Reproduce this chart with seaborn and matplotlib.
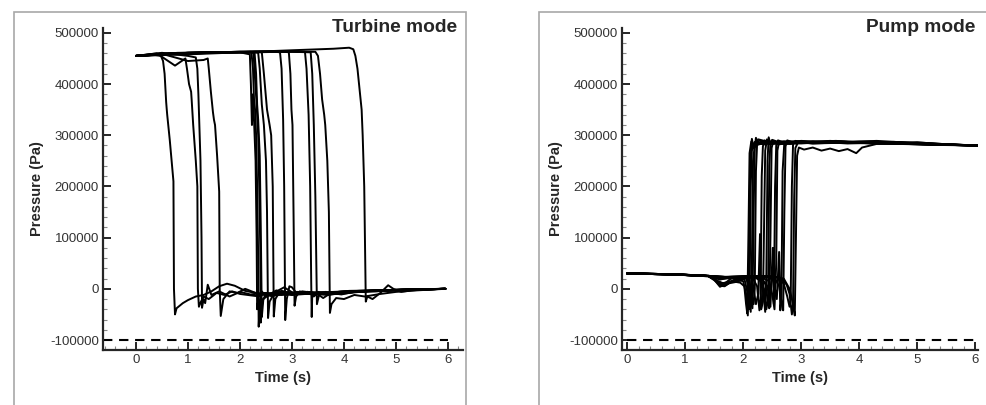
import matplotlib
matplotlib.use("Agg")
import matplotlib.pyplot as plt
from matplotlib.patches import Rectangle
from matplotlib.ticker import MultipleLocator, FuncFormatter
import seaborn as sns
import numpy as np
import pandas as pd

# Turbine mode: pressure traces (time in s, pressure in Pa)
turbine_t = [
    [0, 0.3, 0.48, 0.52, 0.55, 0.58, 0.59, 0.60, 0.65, 0.72, 0.73, 0.75, 0.78, 0.9, 1.0, 1.15, 1.3, 1.45, 1.6, 1.75, 1.9, 2.1, 2.4, 2.7, 3.0, 3.4, 3.8, 4.3, 4.8, 5.3, 5.95],
    [0, 0.4, 0.75, 0.95, 0.98, 1.02, 1.06, 1.07, 1.1, 1.15, 1.18, 1.19, 1.21, 1.25, 1.3, 1.4, 1.55, 1.7, 1.85, 2.0, 2.3, 2.6, 3.0, 3.5, 4.0, 4.6, 5.2, 5.95],
    [0, 0.5, 1.0, 1.15, 1.18, 1.2, 1.24, 1.26, 1.27, 1.3, 1.33, 1.38, 1.45, 1.6, 1.8, 2.0, 2.2, 2.5, 2.8, 3.2, 3.6, 4.1, 4.7, 5.3, 5.95],
    [0, 0.5, 1.0, 1.3, 1.38, 1.4, 1.44, 1.48, 1.5, 1.52, 1.56, 1.6, 1.61, 1.63, 1.68, 1.8, 1.95, 2.1, 2.3, 2.6, 2.9, 3.3, 3.7, 4.2, 4.8, 5.4, 5.95],
    [0, 0.5, 1.0, 1.5, 2.0, 2.19, 2.21, 2.23, 2.25, 2.27, 2.3, 2.32, 2.33, 2.36, 2.45, 2.6, 2.8, 3.0, 3.3, 3.6, 4.0, 4.5, 5.0, 5.5, 5.95],
    [0, 0.6, 1.2, 1.8, 2.22, 2.25, 2.27, 2.29, 2.31, 2.33, 2.35, 2.36, 2.38, 2.42, 2.5, 2.65, 2.85, 3.05, 3.35, 3.7, 4.1, 4.6, 5.1, 5.95],
    [0, 0.7, 1.4, 2.0, 2.28, 2.31, 2.33, 2.35, 2.38, 2.4, 2.42, 2.45, 2.55, 2.7, 2.9, 3.1, 3.4, 3.8, 4.3, 4.9, 5.5, 5.95],
    [0, 0.8, 1.6, 2.2, 2.35, 2.38, 2.42, 2.46, 2.5, 2.52, 2.54, 2.57, 2.65, 2.8, 3.0, 3.2, 3.5, 3.9, 4.4, 5.0, 5.6, 5.95],
    [0, 0.8, 1.6, 2.3, 2.42, 2.46, 2.52, 2.57, 2.6, 2.63, 2.65, 2.68, 2.75, 2.9, 3.1, 3.3, 3.6, 4.0, 4.5, 5.1, 5.95],
    [0, 1.0, 2.0, 2.6, 2.77, 2.8, 2.83, 2.85, 2.87, 2.9, 2.95, 3.0, 3.1, 3.3, 3.6, 4.0, 4.5, 5.0, 5.5, 5.95],
    [0, 1.0, 2.0, 2.8, 2.94, 2.97, 2.99, 3.01, 3.03, 3.05, 3.08, 3.15, 3.3, 3.5, 3.8, 4.2, 4.7, 5.3, 5.95],
    [0, 1.0, 2.0, 3.0, 3.25, 3.28, 3.32, 3.35, 3.37, 3.38, 3.39, 3.42, 3.5, 3.65, 3.85, 4.1, 4.5, 5.0, 5.5, 5.95],
    [0, 1.0, 2.0, 3.0, 3.36, 3.39, 3.42, 3.45, 3.47, 3.48, 3.52, 3.6, 3.75, 3.95, 4.2, 4.6, 5.1, 5.6, 5.95],
    [0, 1.0, 2.0, 3.0, 3.45, 3.5, 3.54, 3.58, 3.62, 3.64, 3.68, 3.71, 3.73, 3.76, 3.85, 4.0, 4.2, 4.4, 4.7, 5.0, 5.4, 5.95],
    [0, 1.0, 2.0, 3.0, 3.8, 4.1, 4.18, 4.22, 4.26, 4.3, 4.32, 4.34, 4.36, 4.39, 4.41, 4.42, 4.45, 4.55, 4.7, 4.85, 4.95, 5.1, 5.3, 5.6, 5.95],
    [0, 0.7, 1.5, 2.1, 2.26, 2.29, 2.32, 2.35, 2.37, 2.39, 2.4, 2.43, 2.5, 2.62, 2.8, 3.0, 3.3, 3.7, 4.2, 4.8, 5.4, 5.95],
]
turbine_p = [
    [455000, 458000, 455000, 445000, 420000, 365000, 352000, 340000, 290000, 210000, 0, -50000, -38000, -28000, -22000, -15000, -12000, -5000, 5000, 10000, 6000, -4000, -10000, -8000, -12000, -9000, -6000, -4000, -3000, -1500, 0],
    [455000, 460000, 436000, 450000, 430000, 400000, 385000, 370000, 320000, 250000, 200000, 0, -35000, -25000, -15000, -20000, -8000, -12000, -5000, -10000, -14000, -9000, -7000, -10000, -5000, -3000, -2000, 0],
    [455000, 461000, 455000, 452000, 430000, 380000, 250000, 100000, -37000, -20000, -28000, 8000, -12000, -5000, -15000, -6000, -11000, -8000, -12000, -6000, -9000, -4000, -3000, -1000, 0],
    [455000, 459000, 445000, 447000, 450000, 430000, 385000, 345000, 330000, 320000, 260000, 190000, 0, -53000, -20000, -5000, -8000, 0, -8000, -14000, -10000, -7000, -11000, -6000, -3000, -1500, 0],
    [455000, 460000, 461000, 462000, 462000, 458000, 400000, 320000, 380000, 330000, 250000, 100000, -40000, -15000, -8000, -12000, -5000, -9000, -6000, -10000, -7000, -4000, -2000, -1000, 0],
    [455000, 459000, 461000, 462000, 462000, 430000, 370000, 350000, 300000, 200000, 60000, -74000, -30000, -5000, -15000, -8000, 3000, -10000, -8000, -12000, -6000, -4000, -2000, 0],
    [455000, 460000, 462000, 463000, 462000, 420000, 360000, 330000, 260000, 120000, -55000, -20000, -12000, -3000, -10000, -7000, -11000, -8000, -5000, -3000, -1000, 0],
    [455000, 460000, 462000, 463000, 461000, 430000, 360000, 320000, 250000, 150000, -57000, -25000, -10000, -6000, -12000, -5000, -9000, -6000, -4000, -2000, -500, 0],
    [455000, 461000, 462000, 463000, 462000, 420000, 350000, 320000, 300000, 200000, -54000, -20000, -8000, -12000, -6000, -10000, -7000, -9000, -4000, -2000, 0],
    [455000, 461000, 463000, 464000, 462000, 430000, 330000, 200000, -61000, -20000, 5000, 3000, -10000, -8000, -11000, -7000, -5000, -3000, -1000, 0],
    [455000, 461000, 463000, 464000, 462000, 420000, 350000, 320000, 150000, -33000, -15000, -5000, -10000, -6000, -9000, -5000, -3000, -1000, 0],
    [455000, 461000, 463000, 464000, 463000, 430000, 340000, 200000, 14000, -55000, -10000, -15000, -8000, -6000, -10000, -7000, -4000, -2000, -1000, 0],
    [455000, 460000, 462000, 463000, 462000, 420000, 320000, 180000, 40000, -30000, -12000, -18000, -8000, -11000, -6000, -5000, -2000, -1000, 0],
    [455000, 460000, 462000, 463000, 463000, 455000, 420000, 370000, 340000, 320000, 250000, 150000, -47000, -30000, -18000, -20000, -12000, -15000, -10000, -6000, -3000, 0],
    [455000, 458000, 462000, 466000, 469000, 471000, 468000, 455000, 430000, 390000, 370000, 350000, 300000, 200000, 50000, -25000, -15000, -20000, -8000, 7000, 0, -6000, -3000, -1000, 0],
    [455000, 459000, 461000, 462000, 461000, 410000, 360000, 300000, 200000, 80000, -66000, -25000, -9000, -14000, -4000, -9000, -6000, -10000, -5000, -3000, -1000, 0],
]

# Pump mode: pressure traces
pump_t = [
    [0, 0.8, 1.4, 1.5, 1.6, 1.68, 1.8, 1.95, 2.02, 2.05, 2.07, 2.09, 2.11, 2.14, 2.2, 2.4, 2.8, 3.5, 4.5, 5.5, 6.05],
    [0, 0.8, 1.4, 1.5, 1.6, 1.7, 1.85, 2.0, 2.05, 2.08, 2.1, 2.12, 2.15, 2.18, 2.3, 2.6, 3.0, 3.8, 4.6, 5.4, 6.05],
    [0, 0.8, 1.4, 1.5, 1.58, 1.72, 1.9, 2.02, 2.07, 2.1, 2.11, 2.13, 2.15, 2.2, 2.35, 2.7, 3.2, 4.0, 4.8, 5.6, 6.05],
    [0, 0.8, 1.4, 1.5, 1.6, 1.75, 1.9, 2.05, 2.1, 2.13, 2.15, 2.17, 2.2, 2.26, 2.5, 3.0, 3.6, 4.3, 5.0, 5.7, 6.05],
    [0, 0.8, 1.4, 1.62, 1.8, 1.95, 2.08, 2.12, 2.16, 2.18, 2.2, 2.22, 2.26, 2.4, 2.9, 3.4, 4.2, 5.0, 5.8, 6.05],
    [0, 0.8, 1.4, 1.5, 1.6, 1.7, 1.8, 2.0, 2.1, 2.15, 2.18, 2.2, 2.22, 2.24, 2.28, 2.45, 2.9, 3.5, 4.3, 5.1, 5.8, 6.05],
    [0, 0.8, 1.4, 1.65, 1.85, 2.05, 2.15, 2.22, 2.26, 2.29, 2.31, 2.34, 2.36, 2.38, 2.41, 2.5, 2.9, 3.6, 4.4, 5.2, 6.05],
    [0, 0.8, 1.4, 1.6, 1.8, 2.0, 2.15, 2.24, 2.28, 2.3, 2.32, 2.34, 2.37, 2.45, 2.8, 3.3, 4.0, 4.8, 5.6, 6.05],
    [0, 0.8, 1.4, 1.6, 1.8, 2.0, 2.2, 2.3, 2.35, 2.38, 2.4, 2.42, 2.44, 2.47, 2.6, 3.0, 3.6, 4.4, 5.2, 6.05],
    [0, 0.8, 1.4, 1.55, 1.65, 1.8, 2.0, 2.2, 2.3, 2.36, 2.4, 2.43, 2.45, 2.47, 2.5, 2.7, 3.1, 3.8, 4.6, 5.4, 6.05],
    [0, 0.8, 1.4, 1.7, 1.9, 2.1, 2.3, 2.38, 2.42, 2.45, 2.47, 2.49, 2.52, 2.6, 3.0, 3.6, 4.3, 5.0, 5.8, 6.05],
    [0, 0.8, 1.4, 1.7, 1.9, 2.1, 2.3, 2.42, 2.47, 2.51, 2.53, 2.55, 2.57, 2.6, 2.75, 3.2, 3.9, 4.7, 5.5, 6.05],
    [0, 0.8, 1.4, 1.7, 1.9, 2.1, 2.3, 2.45, 2.5, 2.54, 2.57, 2.59, 2.62, 2.7, 3.0, 3.5, 4.2, 5.0, 5.7, 6.05],
    [0, 0.8, 1.4, 1.7, 2.0, 2.2, 2.4, 2.52, 2.58, 2.62, 2.64, 2.66, 2.68, 2.71, 2.8, 3.2, 3.9, 4.6, 5.4, 6.05],
    [0, 0.8, 1.4, 1.7, 2.0, 2.2, 2.4, 2.55, 2.62, 2.66, 2.69, 2.71, 2.73, 2.76, 2.9, 3.3, 4.0, 4.8, 5.6, 6.05],
    [0, 0.8, 1.4, 1.7, 2.0, 2.2, 2.4, 2.6, 2.7, 2.76, 2.8, 2.82, 2.84, 2.86, 2.9, 3.1, 3.6, 4.3, 5.1, 6.05],
    [0, 0.8, 1.4, 1.7, 2.0, 2.3, 2.5, 2.65, 2.75, 2.8, 2.84, 2.86, 2.88, 2.9, 2.95, 3.2, 3.7, 4.4, 5.2, 6.05],
    [0, 0.8, 1.4, 1.7, 2.0, 2.3, 2.5, 2.7, 2.8, 2.86, 2.89, 2.91, 2.93, 2.96, 3.05, 3.2, 3.35, 3.5, 3.65, 3.8, 3.95, 4.05, 4.3, 5.0, 5.7, 6.05],
]
pump_p = [
    [30000, 28500, 25000, 19000, 6000, 5000, 15000, 12000, 5000, -30000, -48000, 100000, 265000, 288000, 280000, 286000, 288000, 285000, 284000, 282000, 280000],
    [30000, 28000, 24500, 17000, 8000, 7000, 18000, 15000, -10000, -52000, 60000, 240000, 293000, 275000, 287000, 283000, 289000, 284000, 287000, 281000, 280000],
    [30000, 28500, 25500, 20000, 12000, 10000, 14000, 20000, -5000, -40000, -20000, 200000, 270000, 287000, 282000, 288000, 284000, 286000, 283000, 282000, 280000],
    [30000, 28000, 25000, 18000, 4000, 12000, 16000, 22000, 0, -45000, 50000, 250000, 280000, 292000, 285000, 286000, 289000, 284000, 286000, 281000, 280000],
    [30000, 28500, 25000, 20000, 22000, 19000, 21000, -20000, -38000, 150000, 275000, 295000, 283000, 288000, 285000, 287000, 288000, 283000, 281000, 280000],
    [30000, 28000, 24500, 19000, 9000, 12000, 21000, 23000, 22000, -15000, -30000, 0, 230000, 283000, 290000, 284000, 287000, 285000, 289000, 284000, 281000, 280000],
    [30000, 28500, 25000, 20000, 22000, 23000, 21000, -30000, -10000, 107000, -40000, -25000, 120000, 270000, 292000, 284000, 288000, 285000, 286000, 282000, 280000],
    [30000, 28000, 25000, 18000, 23000, 22000, 24000, 5000, -42000, -20000, 220000, 278000, 290000, 283000, 287000, 285000, 287000, 283000, 281000, 280000],
    [30000, 28500, 25500, 22000, 20000, 24000, 23000, 15000, -10000, -45000, 30000, 250000, 296000, 282000, 287000, 284000, 288000, 284000, 282000, 280000],
    [30000, 28000, 25000, 16000, 11000, 15000, 23000, 24000, 20000, 0, -40000, -20000, 240000, 285000, 291000, 283000, 286000, 285000, 286000, 282000, 280000],
    [30000, 28500, 25000, 22000, 21000, 24000, 23000, 10000, -20000, -38000, 100000, 275000, 289000, 282000, 288000, 285000, 287000, 284000, 281000, 280000],
    [30000, 28000, 25000, 21000, 23000, 24000, 22000, 5000, -35000, 80000, -30000, 200000, 280000, 290000, 284000, 287000, 285000, 286000, 282000, 280000],
    [30000, 28500, 25500, 22000, 23000, 24000, 23000, 15000, -10000, -40000, 50000, 270000, 288000, 283000, 286000, 289000, 284000, 286000, 281000, 280000],
    [30000, 28000, 25000, 22000, 24000, 24000, 23000, 18000, -20000, 72000, -42000, -20000, 230000, 286000, 283000, 288000, 285000, 286000, 282000, 280000],
    [30000, 28500, 25000, 23000, 24000, 25000, 24000, 20000, 5000, -25000, -42000, 150000, 278000, 290000, 284000, 287000, 285000, 284000, 281000, 280000],
    [30000, 28000, 25000, 23000, 24000, 25000, 24500, 22000, 10000, -15000, -35000, -20000, 200000, 282000, 289000, 285000, 288000, 284000, 282000, 280000],
    [30000, 28500, 25000, 23500, 24500, 25000, 24000, 21000, 8000, -10000, -50000, -30000, 180000, 275000, 287000, 284000, 286000, 285000, 282000, 280000],
    [30000, 28000, 25000, 23000, 24000, 25000, 24500, 20000, 0, -30000, -52000, 100000, 260000, 276000, 272000, 276000, 270000, 274000, 269000, 273000, 265000, 276000, 283000, 285000, 281000, 280000],
]

panel_titles = ["Turbine mode", "Pump mode"]
vapour_limit = -100000
x_ticks = [0, 1, 2, 3, 4, 5, 6]
y_ticks = [-100000, 0, 100000, 200000, 300000, 400000, 500000]


def to_frame(times, pressures):
    rows = []
    for i, (tt, pp) in enumerate(zip(times, pressures)):
        for t, p in zip(tt, pp):
            rows.append({"trace": i, "time": t, "pressure": p})
    return pd.DataFrame(rows)


sns.set_style("ticks")
plt.rcParams["font.family"] = ["Liberation Sans", "DejaVu Sans"]
plt.rcParams["axes.unicode_minus"] = False

W, H = 987, 405
fig = plt.figure(figsize=(W / 100, H / 100), dpi=100)

# panel borders (grey frames around each picture)
for x0, x1 in [(14, 466), (539, 1000)]:
    fig.add_artist(Rectangle((x0 / W, -0.2), (x1 - x0) / W, 1.2 - 12 / H,
                             transform=fig.transFigure, fill=False,
                             edgecolor="#a8a8a8", lw=1.2))

# axes boxes in pixels: left, right, and x-limits
panels = [
    dict(df=to_frame(turbine_t, turbine_p), px=(103, 463), xlim=(-0.635, 6.29),
         dash_end=6.0, title_x=457),
    dict(df=to_frame(pump_t, pump_p), px=(622, 978), xlim=(-0.09, 6.05),
         dash_end=6.05, title_x=975),
]
ylim = (-119500, 509500)

for i, cfg in enumerate(panels):
    x0, x1 = cfg["px"]
    ax = fig.add_axes([x0 / W, (H - 350) / H, (x1 - x0) / W, 322 / H])
    sns.lineplot(data=cfg["df"], x="time", y="pressure", units="trace",
                 estimator=None, sort=False, color="black", lw=1.4,
                 legend=False, ax=ax)
    dash_start = 0 if i == 1 else cfg["xlim"][0]
    ax.plot([dash_start, cfg["dash_end"]], [vapour_limit, vapour_limit],
            color="black", lw=1.5, dashes=(4.5, 3.2))

    ax.set_xlim(*cfg["xlim"])
    ax.set_ylim(*ylim)
    ax.set_xticks(x_ticks)
    ax.set_yticks(y_ticks)
    ax.xaxis.set_minor_locator(MultipleLocator(0.2))
    ax.yaxis.set_minor_locator(MultipleLocator(20000))
    ax.yaxis.set_major_formatter(FuncFormatter(lambda v, _: f"{int(v)}"))
    ax.tick_params(which="major", direction="in", length=6, width=1.2,
                   color="black", labelsize=9.5, labelcolor="#333333", pad=3)
    ax.tick_params(which="minor", direction="in", length=3, width=0.8,
                   color="#888888")
    for s in ["top", "right"]:
        ax.spines[s].set_visible(False)
    for s in ["left", "bottom"]:
        ax.spines[s].set_linewidth(1.6)
    ax.set_facecolor("none")

    ax.set_xlabel("Time (s)", fontsize=10.5, fontweight="bold")
    ax.set_ylabel("Pressure (Pa)", fontsize=10.5, fontweight="bold")
    ax.xaxis.set_label_coords(0.5, -0.065)
    ax.yaxis.set_label_coords(-0.165, 0.5)

    fig.text(cfg["title_x"] / W, 1 - 27 / H, panel_titles[i], ha="right",
             va="center", fontsize=13.8, fontweight="bold")

fig.savefig("out.png", dpi=100)
